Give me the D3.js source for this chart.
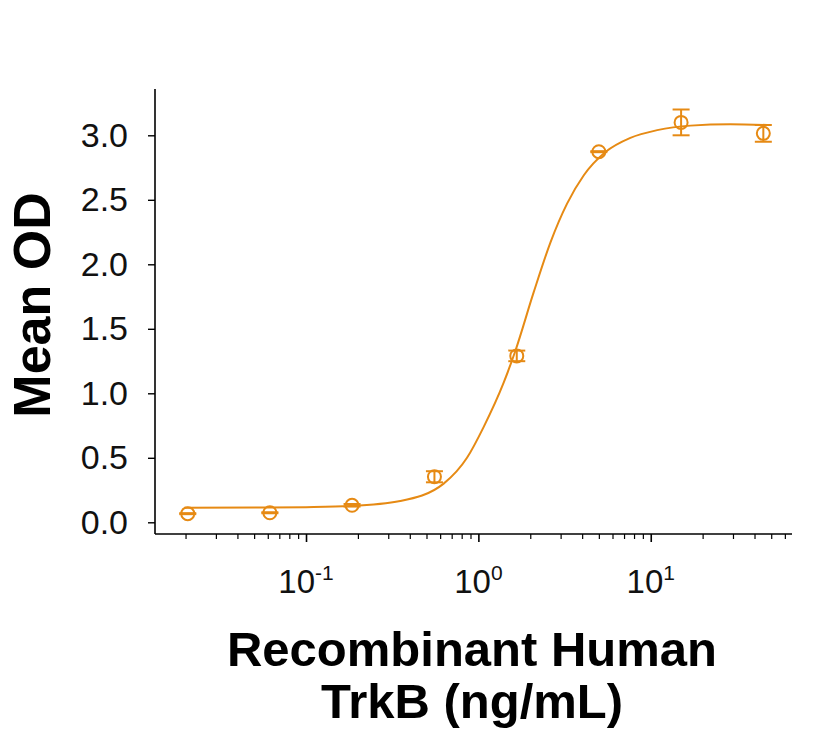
<!DOCTYPE html>
<html>
<head>
<meta charset="utf-8">
<script src="https://cdn.jsdelivr.net/npm/d3@7"></script>
<style>
  body { margin: 0; background: #fff; }
  svg { font-family: "Liberation Sans", Arial, sans-serif; }
</style>
</head>
<body>
<svg width="831" height="738"></svg>
<script>
// measured points (ng/mL, mean OD, error)
const conc = [0.0206, 0.0617, 0.185, 0.556, 1.67, 5, 15, 45];
const od = [0.067, 0.074, 0.132, 0.353, 1.29, 2.873, 3.10, 3.015];
const err = [0.004, 0.004, 0.01, 0.043, 0.041, 0.004, 0.1, 0.065];

// fitted curve
const fitX = [0.0197, 0.06, 0.1, 0.181, 0.352, 0.629, 0.859, 1.074, 1.40, 1.64, 2.09, 2.62, 3.27, 4.09, 5.46, 7.62, 10.9, 17.0, 29.0, 47.4];
const fitY = [0.113, 0.114, 0.117, 0.126, 0.165, 0.30, 0.50, 0.74, 1.08, 1.33, 1.78, 2.17, 2.47, 2.69, 2.87, 2.98, 3.04, 3.075, 3.085, 3.08];

const yTicks = [0, 0.5, 1.0, 1.5, 2.0, 2.5, 3.0];
const xMajor = [0.1, 1, 10];
const xMajorExp = ["-1", "0", "1"];
const xMinor = [0.02, 0.03, 0.04, 0.05, 0.06, 0.07, 0.08, 0.09,
                0.2, 0.3, 0.4, 0.5, 0.6, 0.7, 0.8, 0.9,
                2, 3, 4, 5, 6, 7, 8, 9,
                20, 30, 40, 50, 60];

const color = "#E68A14";
const svg = d3.select("svg");
const plotL = 155, plotR = 792, plotT = 89, plotB = 534;

const x = d3.scaleLog().domain([0.0133, 66]).range([plotL, plotR]);
const y = d3.scaleLinear().domain([0, 3.0]).range([522.3, 135.3]);

// axes
svg.append("g")
    .attr("transform", "translate(0," + plotB + ")")
    .call(d3.axisBottom(x).tickValues(xMinor).tickSize(5).tickFormat("").tickSizeOuter(0))
    .call(g => g.select(".domain").remove())
    .call(g => g.selectAll("line").attr("stroke-width", 1.2));

svg.append("g")
    .attr("transform", "translate(0," + plotB + ")")
    .call(d3.axisBottom(x).tickValues(xMajor).tickSize(8).tickFormat("").tickSizeOuter(0))
    .call(g => g.select(".domain").attr("d", "M" + plotL + ",0H" + plotR).attr("stroke-width", 1.6))
    .call(g => g.selectAll("line").attr("stroke-width", 1.6));

const xl = svg.append("g").selectAll("text")
    .data(xMajor)
    .join("text")
    .attr("x", d => x(d))
    .attr("y", 593)
    .attr("text-anchor", "middle")
    .attr("font-size", 33)
    .attr("fill", "#111");
xl.append("tspan").text("10");
xl.append("tspan").attr("dy", -13).attr("font-size", 21).text((d, i) => xMajorExp[i]);

svg.append("g")
    .attr("transform", "translate(" + plotL + ",0)")
    .call(d3.axisLeft(y).tickValues(yTicks).tickSize(7).tickPadding(20)
        .tickFormat(d3.format(".1f")).tickSizeOuter(0))
    .call(g => g.select(".domain").attr("d", "M0," + plotT + "V" + plotB).attr("stroke-width", 1.6))
    .call(g => g.selectAll("line").attr("stroke-width", 1.4))
    .call(g => g.selectAll("text").attr("font-size", 34).attr("fill", "#111")
        .attr("font-family", "'Liberation Sans', Arial, sans-serif"));

// titles
svg.append("text")
    .attr("transform", "translate(50,305) rotate(-90)")
    .attr("text-anchor", "middle")
    .attr("font-size", 52)
    .attr("font-weight", "bold")
    .attr("fill", "#000")
    .text("Mean OD");

svg.append("text")
    .attr("x", 472).attr("y", 666)
    .attr("text-anchor", "middle")
    .attr("font-size", 49)
    .attr("font-weight", "bold")
    .attr("fill", "#000")
    .text("Recombinant Human");

svg.append("text")
    .attr("x", 472).attr("y", 718)
    .attr("text-anchor", "middle")
    .attr("font-size", 49)
    .attr("font-weight", "bold")
    .attr("fill", "#000")
    .text("TrkB (ng/mL)");

// fitted curve
const line = d3.line()
    .x(i => x(fitX[i]))
    .y(i => y(fitY[i]))
    .curve(d3.curveMonotoneX);

svg.append("path")
    .attr("d", line(d3.range(fitX.length)))
    .attr("fill", "none")
    .attr("stroke", color)
    .attr("stroke-width", 2);

// points with error bars
const pts = svg.append("g").selectAll("g")
    .data(d3.range(conc.length))
    .join("g")
    .attr("stroke", color)
    .attr("fill", "none")
    .attr("stroke-width", 2);

pts.append("line")
    .attr("x1", i => x(conc[i])).attr("x2", i => x(conc[i]))
    .attr("y1", i => y(od[i] + err[i])).attr("y2", i => y(od[i] - err[i]));
pts.append("line")
    .attr("x1", i => x(conc[i]) - 8.5).attr("x2", i => x(conc[i]) + 8.5)
    .attr("y1", i => y(od[i] + err[i])).attr("y2", i => y(od[i] + err[i]));
pts.append("line")
    .attr("x1", i => x(conc[i]) - 8.5).attr("x2", i => x(conc[i]) + 8.5)
    .attr("y1", i => y(od[i] - err[i])).attr("y2", i => y(od[i] - err[i]));
pts.append("circle")
    .attr("cx", i => x(conc[i]))
    .attr("cy", i => y(od[i]))
    .attr("r", 6.5);
</script>
</body>
</html>
